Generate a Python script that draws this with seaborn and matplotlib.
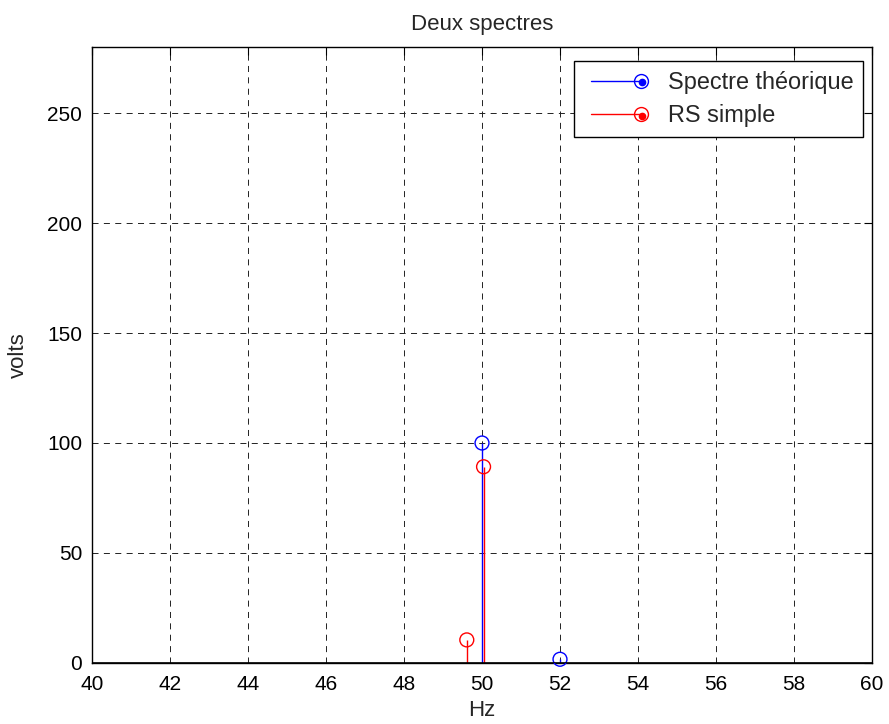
import matplotlib
matplotlib.use("Agg")
import matplotlib.pyplot as plt
import seaborn as sns
import pandas as pd
from matplotlib.legend_handler import HandlerBase
from matplotlib.lines import Line2D

# Data
theo_hz = [50.0, 52.0]
theo_volts = [100.0, 1.7]
rs_hz = [49.61, 50.04]
rs_volts = [10.5, 89.2]
series_names = ["Spectre théorique", "RS simple"]
x_ticks = [40, 42, 44, 46, 48, 50, 52, 54, 56, 58, 60]
y_ticks = [0, 50, 100, 150, 200, 250]

df = pd.concat([
    pd.DataFrame({"Hz": theo_hz, "volts": theo_volts, "serie": series_names[0]}),
    pd.DataFrame({"Hz": rs_hz, "volts": rs_volts, "serie": series_names[1]}),
])

sns.set_style("white")
plt.rcParams['font.family'] = ['Liberation Sans', 'DejaVu Sans']

fig = plt.figure(figsize=(8.89, 7.24), dpi=100)
ax = fig.add_axes([92/889, 61/724, 780/889, 616/724])

colors = {series_names[0]: "#0000ff", series_names[1]: "#ff0000"}
for name, sub in df.groupby("serie", sort=False):
    c = colors[name]
    ax.vlines(sub["Hz"], 0, sub["volts"], color=c, lw=1.0, zorder=3)
    sns.scatterplot(data=sub, x="Hz", y="volts", ax=ax, s=100, marker="o",
                    facecolors="none", edgecolor=c, linewidth=1.0, zorder=4,
                    legend=False, clip_on=False)

ax.axhline(0, color="black", lw=1.2, zorder=5)
ax.set_xlim(40, 60)
ax.set_ylim(0, 280)
ax.set_xticks(x_ticks)
ax.set_yticks(y_ticks)
ax.tick_params(direction="in", top=True, right=True, length=6, width=0.8,
               labelsize=15, colors="black")
ax.tick_params(axis="x", pad=9)
ax.tick_params(axis="y", pad=7)
ax.grid(True, color="#222222", linestyle=(0, (6.2, 5.5)), linewidth=0.7)
for sp in ax.spines.values():
    sp.set_color("black")
    sp.set_linewidth(1.0)
    sp.set_visible(True)

ax.set_title("Deux spectres", fontsize=16, pad=12.5)
ax.set_xlabel("Hz", fontsize=16, labelpad=4)
ax.set_ylabel("volts", fontsize=16, labelpad=13)


class StemHandler(HandlerBase):
    def __init__(self, color):
        super().__init__()
        self.color = color

    def create_artists(self, legend, orig_handle, xdescent, ydescent, width,
                       height, fontsize, trans):
        y = height / 2 - ydescent
        x0 = -xdescent + 5
        x1 = -xdescent + width
        line = Line2D([x0, x1], [y, y], color=self.color, lw=1.0)
        circ = Line2D([x1], [y], marker="o", markersize=10, markerfacecolor="none",
                      markeredgecolor=self.color, markeredgewidth=1.0, linestyle="none")
        dot = Line2D([x1 + 1], [y - 1], marker="o", markersize=4.5, markerfacecolor=self.color,
                     markeredgecolor=self.color, linestyle="none")
        for a in (line, circ, dot):
            a.set_transform(trans)
        return [line, circ, dot]


h1 = Line2D([], [], color=colors[series_names[0]])
h2 = Line2D([], [], color=colors[series_names[1]])
leg = ax.legend([h1, h2], series_names, loc="upper right",
                bbox_to_anchor=((863 - 92) / 780, (663 - 61) / 616),
                borderaxespad=0, prop={"size": 16.9},
                handler_map={h1: StemHandler(colors[series_names[0]]),
                             h2: StemHandler(colors[series_names[1]])},
                frameon=True, fancybox=False, edgecolor="black", framealpha=1,
                handlelength=2.4, handletextpad=1.15, borderpad=0.42,
                labelspacing=0.45)
leg.get_frame().set_linewidth(1.0)

fig.savefig("out.png", dpi=100)
